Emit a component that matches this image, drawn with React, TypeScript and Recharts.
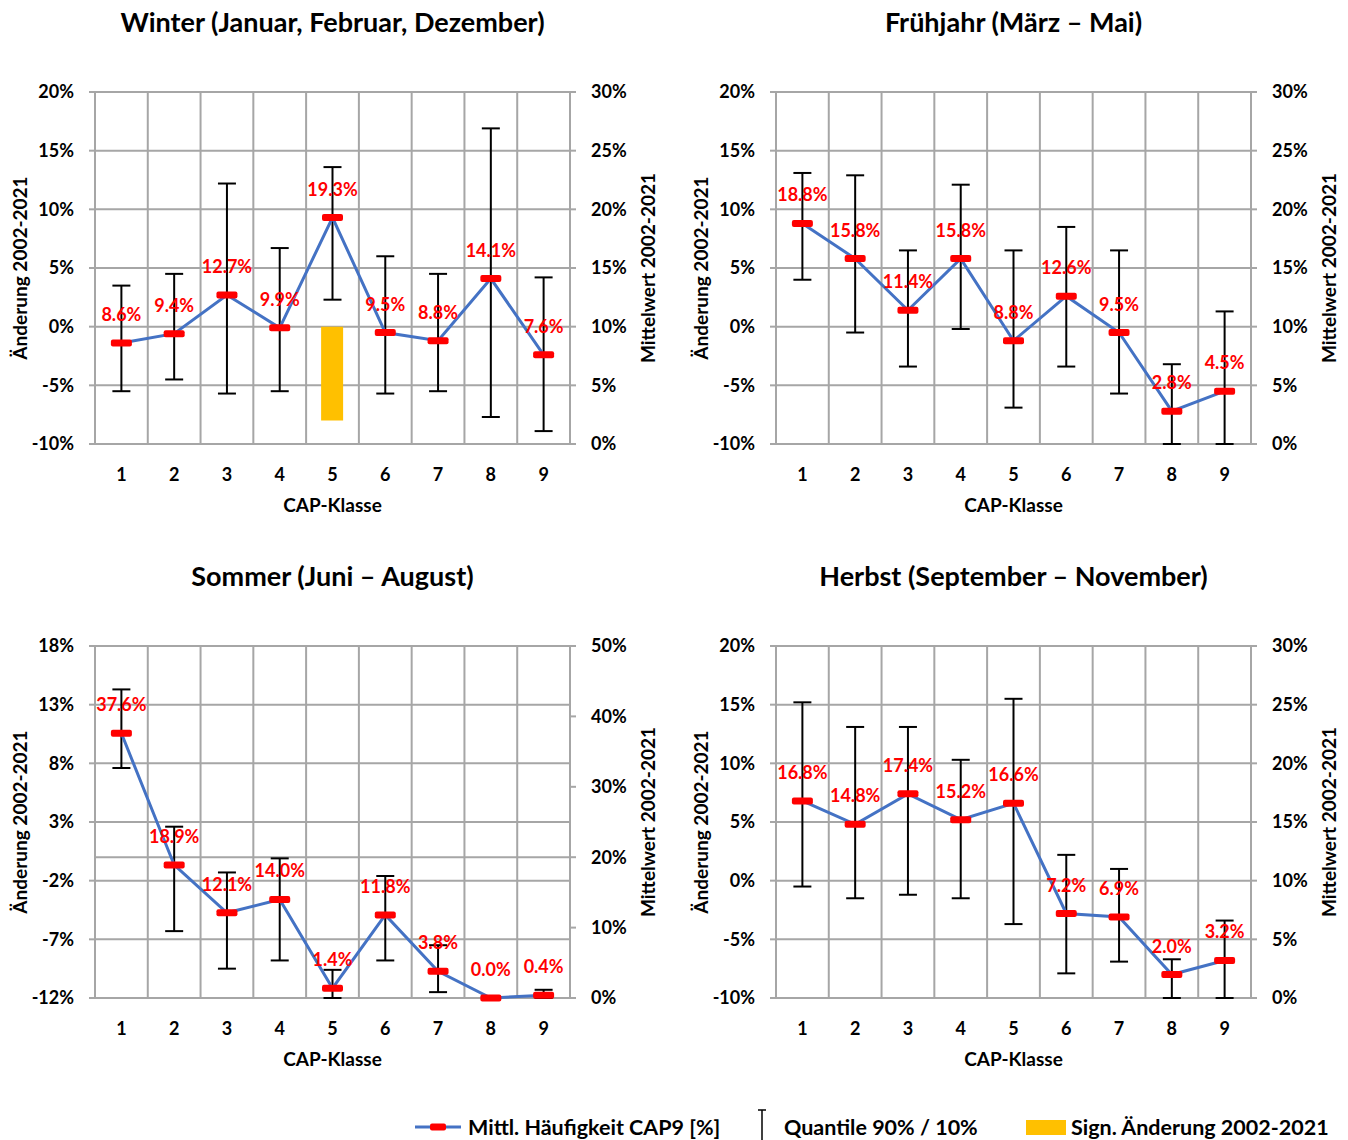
import React from 'react'
import {
  Bar,
  CartesianGrid,
  ComposedChart,
  ErrorBar,
  LabelList,
  Line,
  ReferenceLine,
  XAxis,
  YAxis,
} from 'recharts'

const classes = [1, 2, 3, 4, 5, 6, 7, 8, 9]
const classBounds = [0.5, 1.5, 2.5, 3.5, 4.5, 5.5, 6.5, 7.5, 8.5, 9.5]

// mean frequency (right axis, %)
const winterMean = [8.6, 9.4, 12.7, 9.9, 19.3, 9.5, 8.8, 14.1, 7.6]
const springMean = [18.8, 15.8, 11.4, 15.8, 8.8, 12.6, 9.5, 2.8, 4.5]
const summerMean = [37.6, 18.9, 12.1, 14.0, 1.4, 11.8, 3.8, 0.0, 0.4]
const autumnMean = [16.8, 14.8, 17.4, 15.2, 16.6, 7.2, 6.9, 2.0, 3.2]

// quantiles of change (left axis, %)
const winterQ90 = [3.5, 4.5, 12.2, 6.7, 13.6, 6.0, 4.5, 16.9, 4.2]
const winterQ10 = [-5.5, -4.5, -5.7, -5.5, 2.3, -5.7, -5.5, -7.7, -8.9]
const springQ90 = [13.1, 12.9, 6.5, 12.1, 6.5, 8.5, 6.5, -3.2, 1.3]
const springQ10 = [4.0, -0.5, -3.4, -0.2, -6.9, -3.4, -5.7, -10.0, -10.0]
const summerQ90 = [14.3, 2.6, -1.3, -0.1, -9.6, -1.6, -7.5, -12.0, -11.3]
const summerQ10 = [7.6, -6.3, -9.5, -8.8, -12.0, -8.8, -11.5, -12.0, -12.0]
const autumnQ90 = [15.2, 13.1, 13.1, 10.3, 15.5, 2.2, 1.0, -6.7, -3.4]
const autumnQ10 = [-0.5, -1.5, -1.2, -1.5, -3.7, -7.9, -6.9, -10.0, -10.0]

// significant change (left axis, %)
const winterSig = [null, null, null, null, -8.0, null, null, null, null]

const ticksChange = [-10, -5, 0, 5, 10, 15, 20]
const ticksMean = [0, 5, 10, 15, 20, 25, 30]
const ticksChangeSummer = [-12, -7, -2, 3, 8, 13, 18]
const ticksMeanSummer = [0, 10, 20, 30, 40, 50]

const GRID = '#a6a6a6'
const BLUE = '#4472C4'
const RED = '#FF0000'
const YELLOW = '#FFC000'
const FONT = 'Lato, sans-serif'

const pct = (v: number) => `${v}%`

const Marker = (props: any) => {
  const { cx, cy } = props
  if (cx == null || cy == null) return null
  return <rect x={cx - 10.5} y={cy - 3.5} width={21} height={7} rx={2} fill={RED} />
}

type PanelProps = {
  title: string
  mean: number[]
  q90: number[]
  q10: number[]
  sig?: (number | null)[]
  leftTicks: number[]
  rightTicks: number[]
  zeroLine?: boolean
  left: number
  top: number
}

function Panel({ title, mean, q90, q10, sig, leftTicks, rightTicks, zeroLine, left, top }: PanelProps) {
  const rows = classes.map((c, i) => ({
    cls: c,
    mean: mean[i],
    qLo: q10[i],
    qErr: [0, q90[i] - q10[i]],
    sig: sig ? sig[i] : null,
  }))
  const tickStyle = { fill: '#000', fontSize: 18, fontWeight: 700 }
  const titleStyle = { fill: '#000', fontSize: 19, fontWeight: 700, textAnchor: 'middle' as const }
  return (
    <>
      <div
        style={{
          position: 'absolute',
          left: left + 95,
          top: top + 5,
          width: 475,
          textAlign: 'center',
          fontSize: 27,
          lineHeight: '34px',
          fontWeight: 700,
          whiteSpace: 'nowrap',
        }}
      >
        {title}
      </div>
      <div style={{ position: 'absolute', left, top: top }}>
        <ComposedChart width={674} height={530} data={rows} margin={{ top: 92, right: 0, bottom: 18, left: 0 }}>
          <CartesianGrid yAxisId="left" vertical={false} stroke={GRID} strokeWidth={2} />
          {classBounds.map((b) => (
            <ReferenceLine key={b} x={b} yAxisId="left" stroke={GRID} strokeWidth={2} />
          ))}
          {zeroLine && <ReferenceLine y={0} yAxisId="left" stroke={GRID} strokeWidth={2} />}
          <XAxis
            type="number"
            dataKey="cls"
            domain={[0.5, 9.5]}
            ticks={classes}
            tickLine={false}
            axisLine={false}
            tickSize={6}
            tickMargin={18}
            height={68}
            tick={tickStyle}
            label={{ value: 'CAP-Klasse', position: 'insideBottom', offset: 0, style: titleStyle }}
          />
          <YAxis
            yAxisId="left"
            domain={[leftTicks[0], leftTicks[leftTicks.length - 1]]}
            ticks={leftTicks}
            tickFormatter={pct}
            width={95}
            tickSize={6}
            tickMargin={15}
            tick={tickStyle}
            stroke={GRID}
            axisLine={{ stroke: GRID, strokeWidth: 2 }}
            tickLine={{ stroke: GRID, strokeWidth: 2 }}
            label={{ value: 'Änderung 2002-2021', angle: -90, position: 'insideLeft', offset: 20, style: titleStyle }}
          />
          <YAxis
            yAxisId="right"
            orientation="right"
            domain={[rightTicks[0], rightTicks[rightTicks.length - 1]]}
            ticks={rightTicks}
            tickFormatter={pct}
            width={104}
            tickSize={6}
            tickMargin={15}
            tick={tickStyle}
            axisLine={{ stroke: GRID, strokeWidth: 2 }}
            tickLine={{ stroke: GRID, strokeWidth: 2 }}
            label={{ value: 'Mittelwert 2002-2021', angle: -90, position: 'insideRight', offset: 26, style: titleStyle }}
          />
          <Bar yAxisId="left" dataKey="sig" fill={YELLOW} barSize={22} isAnimationActive={false} />
          <Line
            yAxisId="left"
            dataKey="qLo"
            stroke="none"
            dot={false}
            activeDot={false}
            legendType="none"
            isAnimationActive={false}
          >
            <ErrorBar dataKey="qErr" direction="y" width={9} stroke="#000" strokeWidth={2} />
          </Line>
          <Line
            yAxisId="right"
            dataKey="mean"
            stroke={BLUE}
            strokeWidth={3}
            dot={<Marker />}
            activeDot={false}
            isAnimationActive={false}
          >
            <LabelList
              dataKey="mean"
              position="top"
              offset={22}
              formatter={(v: any) => `${Number(v).toFixed(1)}%`}
              style={{ fill: RED, fontSize: 18, fontWeight: 700 }}
            />
          </Line>
        </ComposedChart>
      </div>
    </>
  )
}

function Legend() {
  const text = {
    position: 'absolute' as const,
    top: 1114,
    fontSize: 21.5,
    lineHeight: '26px',
    fontWeight: 700,
    whiteSpace: 'nowrap' as const,
  }
  return (
    <>
      <svg style={{ position: 'absolute', left: 415, top: 1117 }} width={48} height={20}>
        <line x1={0} y1={10} x2={46} y2={10} stroke={BLUE} strokeWidth={3} />
        <rect x={15} y={6.5} width={16} height={7} rx={2} fill={RED} />
      </svg>
      <div style={{ ...text, left: 468 }}>Mittl. Häufigkeit CAP9 [%]</div>
      <svg style={{ position: 'absolute', left: 752, top: 1108 }} width={20} height={32}>
        <line x1={10} y1={2} x2={10} y2={32} stroke="#000" strokeWidth={1.5} />
        <line x1={6} y1={2} x2={14} y2={2} stroke="#000" strokeWidth={1.5} />
      </svg>
      <div style={{ ...text, left: 784 }}>Quantile 90% / 10%</div>
      <svg style={{ position: 'absolute', left: 1026, top: 1120 }} width={42} height={16}>
        <rect x={0} y={0} width={40} height={15} fill={YELLOW} />
      </svg>
      <div style={{ ...text, left: 1071 }}>Sign. Änderung 2002-2021</div>
    </>
  )
}

export default function App() {
  return (
    <div
      style={{
        position: 'absolute',
        left: 0,
        top: 0,
        width: 1348,
        height: 1140,
        background: '#fff',
        fontFamily: FONT,
        color: '#000',
        overflow: 'hidden',
      }}
    >
      <Panel
        title="Winter (Januar, Februar, Dezember)"
        mean={winterMean}
        q90={winterQ90}
        q10={winterQ10}
        sig={winterSig}
        leftTicks={ticksChange}
        rightTicks={ticksMean}
        left={0}
        top={0}
      />
      <Panel
        title="Frühjahr (März – Mai)"
        mean={springMean}
        q90={springQ90}
        q10={springQ10}
        leftTicks={ticksChange}
        rightTicks={ticksMean}
        left={681}
        top={0}
      />
      <Panel
        title="Sommer (Juni – August)"
        mean={summerMean}
        q90={summerQ90}
        q10={summerQ10}
        leftTicks={ticksChangeSummer}
        rightTicks={ticksMeanSummer}
        zeroLine
        left={0}
        top={554}
      />
      <Panel
        title="Herbst (September – November)"
        mean={autumnMean}
        q90={autumnQ90}
        q10={autumnQ10}
        leftTicks={ticksChange}
        rightTicks={ticksMean}
        left={681}
        top={554}
      />
      <Legend />
    </div>
  )
}
